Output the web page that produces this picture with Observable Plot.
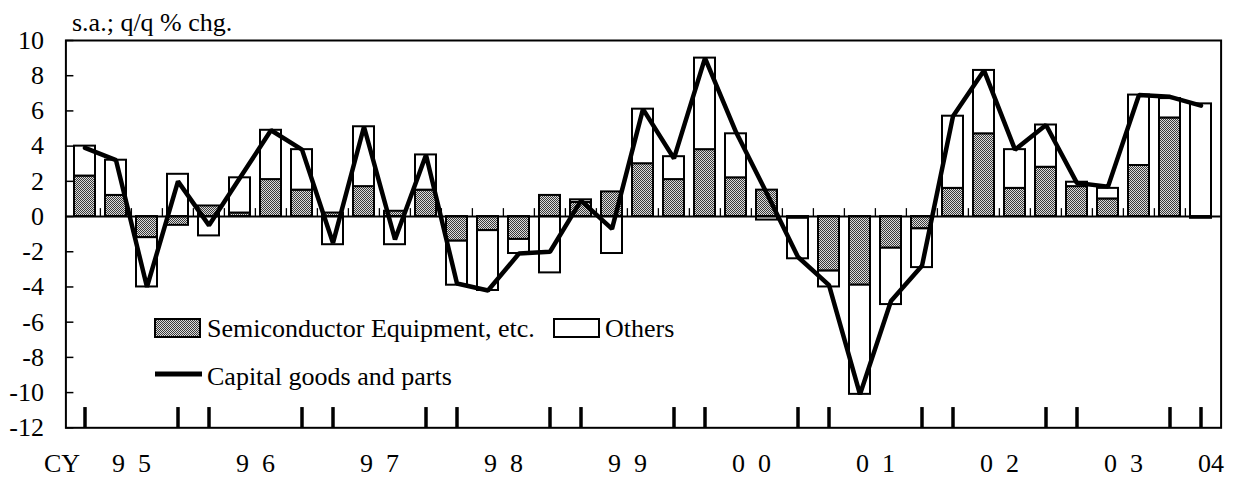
<!DOCTYPE html>
<html><head><meta charset="utf-8">
<script src="https://cdn.jsdelivr.net/npm/d3@7"></script>
<script src="https://cdn.jsdelivr.net/npm/@observablehq/plot@0.6"></script>
<style>html,body{margin:0;padding:0;background:#fff}</style>
</head><body><div id="chart"></div>
<script>
// ---- data ----
const years = [1995,1996,1997,1998,1999,2000,2001,2002,2003];
const quarters = years.flatMap(y => ["Q1","Q2","Q3","Q4"].map(q => y + q)).concat(["2004Q1"]);
const semiconductor = [2.3,1.2,-1.2,-0.5, 0.6,0.2,2.1,1.5, 0.2,1.7,0.3,1.5, -1.4,-0.8,-1.3,1.2, 0.8,1.4,3.0,2.1, 3.8,2.2,1.5,-0.1, -3.1,-3.9,-1.8,-0.7, 1.6,4.7,1.6,2.8, 1.7,1.0,2.9,5.6, -0.1];
const others = [1.7,2.0,-2.8,2.4, -1.1,2.0,2.8,2.3, -1.6,3.4,-1.6,2.0, -2.5,-3.4,-0.8,-3.2, 0.15,-2.1,3.1,1.3, 5.2,2.5,-0.2,-2.3, -0.9,-6.2,-3.2,-2.2, 4.1,3.6,2.2,2.4, 0.25,0.6,4.0,1.1, 6.4];
const capitalGoods = [3.9,3.2,-4.0,2.0, -0.5,2.2,4.9,3.8, -1.5,5.1,-1.3,3.5, -3.8,-4.2,-2.1,-2.0, 0.9,-0.7,6.1,3.3, 9.0,4.8,1.3,-2.3, -3.9,-10.1,-4.8,-2.8, 5.7,8.3,3.8,5.2, 1.9,1.7,6.9,6.8, 6.3];
const yTicks = [-12,-10,-8,-6,-4,-2,0,2,4,6,8,10];
const yearLabels = ["9\u20025","9\u20026","9\u20027","9\u20028","9\u20029","0\u20020","0\u20021","0\u20022","0\u20023"];
const yearLabelQuarters = ["1995Q2","1996Q2","1997Q2","1998Q2","1999Q2","2000Q2","2001Q2","2002Q2","2003Q2"];
const lastYearLabel = ["04"];
const lastYearQuarter = "2004Q1";
const majorTickQuarters = ["1995Q1","1995Q4","1996Q1","1996Q4","1997Q1","1997Q4","1998Q1","1998Q4","1999Q1","1999Q4","2000Q1","2000Q4","2001Q1","2001Q4","2002Q1","2002Q4","2003Q1","2003Q4","2004Q1"];
const seriesNames = ["Semiconductor Equipment, etc.","Others","Capital goods and parts"];
const unitLabel = "s.a.; q/q % chg.";

// ---- layout ----
const W = 1235, H = 478, mL = 65.4, mR = 14.4, mT = 40, mB = 50.7;
const step = (W - mL - mR) / quarters.length;
const FONT = "'Liberation Serif','Times New Roman',serif";

const bars = [
  ...quarters.map((q, i) => ({q, s: "semi", v: semiconductor[i]})),
  ...quarters.map((q, i) => ({q, s: "others", v: others[i]}))
];
const lineData = quarters.map((q, i) => ({q, v: capitalGoods[i]}));

const plot = Plot.plot({
  width: W, height: H,
  marginLeft: mL, marginRight: mR, marginTop: mT, marginBottom: mB,
  style: {fontFamily: FONT, fontSize: "26px", color: "#000", background: "#fff"},
  x: {type: "band", domain: quarters, paddingInner: 0.32, paddingOuter: 0.16, axis: null},
  y: {domain: [-12, 10], axis: null},
  color: {domain: ["semi", "others"], range: ["url(#semiPattern)", "#ffffff"]},
  marks: [
    Plot.axisY(yTicks, {tickSize: 0, tickPadding: 22, label: null, fontSize: 26, tickFormat: d => String(d)}),
    Plot.barY(bars, {x: "q", y: "v", fill: "s", stroke: "#000", strokeWidth: 2}),
    Plot.ruleY([0], {stroke: "#000", strokeWidth: 2}),
    Plot.ruleX(quarters.slice(1), {x: d => d, y1: 0, y2: 0.45, dx: -step / 2, stroke: "#000", strokeWidth: 1.3}),
    Plot.ruleY(yTicks, {y: d => d, insetRight: W - mL - mR - 8, stroke: "#000", strokeWidth: 1.5}),
    Plot.ruleX(majorTickQuarters, {x: d => d, y1: -12, y2: -10.85, stroke: "#000", strokeWidth: 3.5}),
    Plot.line(lineData, {x: "q", y: "v", stroke: "#000", strokeWidth: 4.5, strokeLinejoin: "miter"}),
    Plot.text(yearLabels, {x: (d, i) => yearLabelQuarters[i], text: d => d, frameAnchor: "bottom", dy: 36, dx: step / 2, lineAnchor: "middle", fontSize: 26}),
    Plot.text(lastYearLabel, {x: () => lastYearQuarter, text: d => d, frameAnchor: "bottom", dy: 36, dx: 10, lineAnchor: "middle", fontSize: 26}),
    Plot.text(["CY"], {x: () => quarters[0], text: d => d, frameAnchor: "bottom", dy: 36, dx: -23, lineAnchor: "middle", fontSize: 26}),
    Plot.frame({stroke: "#000", strokeWidth: 2})
  ]
});

const svg = d3.select(plot);
const defs = svg.insert("defs", ":first-child");
const pat = defs.append("pattern").attr("id", "semiPattern").attr("width", 2).attr("height", 2).attr("patternUnits", "userSpaceOnUse");
pat.append("rect").attr("width", 2).attr("height", 2).attr("fill", "#dcdcdc");
pat.append("rect").attr("width", 1).attr("height", 1).attr("fill", "#3a3a3a");
pat.append("rect").attr("x", 1).attr("y", 1).attr("width", 1).attr("height", 1).attr("fill", "#3a3a3a");

const lg = svg.append("g").attr("font-family", FONT).attr("font-size", 26).attr("fill", "#000").attr("text-anchor", "start");
lg.append("rect").attr("x", 155).attr("y", 319).attr("width", 45).attr("height", 18)
  .attr("fill", "url(#semiPattern)").attr("stroke", "#000").attr("stroke-width", 2);
lg.append("text").attr("x", 207).attr("y", 337).text(seriesNames[0]);
lg.append("rect").attr("x", 554).attr("y", 319).attr("width", 45).attr("height", 18)
  .attr("fill", "#fff").attr("stroke", "#000").attr("stroke-width", 2);
lg.append("text").attr("x", 605).attr("y", 337).text(seriesNames[1]);
lg.append("line").attr("x1", 155).attr("x2", 202).attr("y1", 374).attr("y2", 374)
  .attr("stroke", "#000").attr("stroke-width", 5);
lg.append("text").attr("x", 207).attr("y", 385).text(seriesNames[2]);
lg.append("text").attr("x", 72).attr("y", 31).text(unitLabel);

document.getElementById("chart").append(plot);
</script>
</body></html>
